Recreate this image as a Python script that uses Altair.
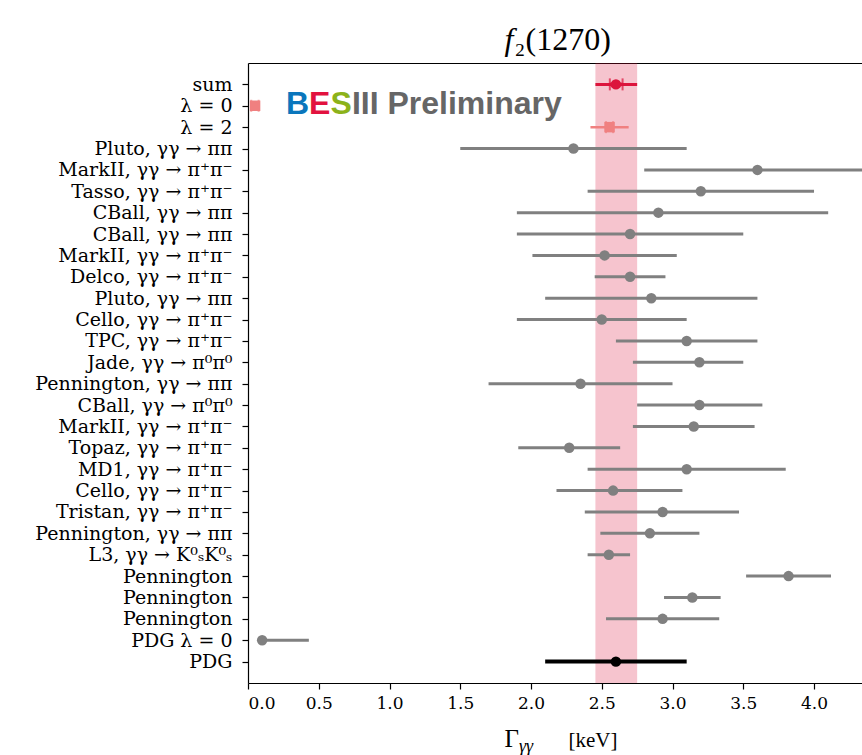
import json
import altair as alt
import pandas as pd

labels = [
    "sum", "λ = 0", "λ = 2",
    "Pluto, γγ → ππ", "MarkII, γγ → π⁺π⁻", "Tasso, γγ → π⁺π⁻",
    "CBall, γγ → ππ", "CBall, γγ → ππ", "MarkII, γγ → π⁺π⁻",
    "Delco, γγ → π⁺π⁻", "Pluto, γγ → ππ", "Cello, γγ → π⁺π⁻",
    "TPC, γγ → π⁺π⁻", "Jade, γγ → π⁰π⁰", "Pennington, γγ → ππ",
    "CBall, γγ → π⁰π⁰", "MarkII, γγ → π⁺π⁻", "Topaz, γγ → π⁺π⁻",
    "MD1, γγ → π⁺π⁻", "Cello, γγ → π⁺π⁻", "Tristan, γγ → π⁺π⁻",
    "Pennington, γγ → ππ", "L3, γγ → K⁰ₛK⁰ₛ", "Pennington",
    "Pennington", "Pennington", "PDG λ = 0", "PDG",
]
values = [2.60, 0.05, 2.555, 2.30, 3.60, 3.20, 2.90, 2.70, 2.52, 2.70, 2.85, 2.50,
          3.10, 3.19, 2.35, 3.19, 3.15, 2.27, 3.10, 2.58, 2.93, 2.84, 2.55, 3.82,
          3.14, 2.93, 0.10, 2.60]
err_lo = [2.455, 0.05, 2.42, 1.50, 2.80, 2.40, 1.90, 1.90, 2.01, 2.45, 2.10, 1.90,
          2.60, 2.72, 1.70, 2.75, 2.72, 1.91, 2.40, 2.18, 2.38, 2.49, 2.40, 3.52,
          2.94, 2.53, 0.07, 2.10]
err_hi = [2.75, 0.05, 2.69, 3.10, 4.40, 4.00, 4.10, 3.50, 3.03, 2.95, 3.60, 3.10,
          3.60, 3.50, 3.00, 3.635, 3.58, 2.63, 3.80, 3.07, 3.47, 3.19, 2.70, 4.12,
          3.34, 3.33, 0.43, 3.10]
groups = ["sum", "lam", "lam"] + ["data"] * 24 + ["pdg"]

stat_rows = [0, 1, 2]
stat_lo = [2.557, 0.023, 2.530]
stat_hi = [2.647, 0.075, 2.580]
stat_groups = ["sum", "lam", "lam"]

group_domain = ["data", "pdg", "sum", "lam"]
group_colors = ["#808080", "#000000", "#DC143C", "#F08080"]

df = pd.DataFrame({"idx": list(range(len(labels))), "label": labels, "val": values,
                   "lo": err_lo, "hi": err_hi, "group": groups})
stat_df = pd.DataFrame({"idx": stat_rows, "slo": stat_lo, "shi": stat_hi, "group": stat_groups})
band_df = df[df["group"] == "sum"][["lo", "hi"]]

FONT = "Liberation Serif"
LFONT = "DejaVu Serif"
xs = alt.Scale(domain=[0, 4.339], nice=False, zero=False)
ys = alt.Scale(domain=[-1, 28], reverse=True, nice=False, zero=False)
cs = alt.Scale(domain=group_domain, range=group_colors)

x_axis = alt.Axis(values=[0, 0.5, 1.0, 1.5, 2.0, 2.5, 3.0, 3.5, 4.0], format=".1f", title=None,
                  grid=False, orient="bottom", tickSize=6, tickColor="black", tickWidth=1.2,
                  domainColor="black", domainWidth=1.2, labelFont=LFONT, labelFontSize=17,
                  labelColor="black", labelPadding=6)
top_axis = alt.Axis(orient="top", labels=False, ticks=False, grid=False, title=None,
                    domainColor="black", domainWidth=1.2)
label_expr = json.dumps(labels, ensure_ascii=False) + "[datum.value]"
y_axis = alt.Axis(values=list(range(len(labels))), labelExpr=label_expr, title=None, grid=False,
                  tickSize=6, tickColor="black", tickWidth=1.2, domainColor="black",
                  domainWidth=1.2, labelFont=LFONT, labelFontSize=19, labelColor="black",
                  labelPadding=10, orient="left", labelOverlap=False, labelLimit=400,
                  labelBound=False)


def Y(field):
    return alt.Y(field, scale=ys, axis=y_axis)


band = alt.Chart(band_df).mark_rect(color="#DC143C", opacity=0.25).encode(
    x=alt.X("lo:Q", scale=xs, axis=top_axis), x2="hi:Q")

base = alt.Chart(df)
gray_rules = base.transform_filter(alt.datum.group == "data").mark_rule(
    color="#808080", strokeWidth=3, clip=True).encode(
    x=alt.X("lo:Q", scale=xs, axis=x_axis), x2="hi:Q", y=Y("idx:Q"))
pdg_rule = base.transform_filter(alt.datum.group == "pdg").mark_rule(
    color="black", strokeWidth=4, clip=True).encode(
    x=alt.X("lo:Q", scale=xs, axis=None), x2="hi:Q", y=Y("idx:Q"))
sum_rule = base.transform_filter(alt.datum.group == "sum").mark_rule(
    color="#DC143C", strokeWidth=3, clip=True).encode(
    x=alt.X("lo:Q", scale=xs, axis=None), x2="hi:Q", y=Y("idx:Q"))
lam_rule = base.transform_filter(alt.datum.group == "lam").mark_rule(
    color="#F08080", strokeWidth=2.5, clip=True).encode(
    x=alt.X("lo:Q", scale=xs, axis=None), x2="hi:Q", y=Y("idx:Q"))

stat = alt.Chart(stat_df)
stat_rule = stat.mark_rule(strokeWidth=3.5).encode(
    x=alt.X("slo:Q", scale=xs, axis=None), x2="shi:Q", y=Y("idx:Q"),
    color=alt.Color("group:N", scale=cs, legend=None))
cap_lo = stat.mark_tick(orient="vertical", size=12, thickness=2).encode(
    x=alt.X("slo:Q", scale=xs, axis=None), y=Y("idx:Q"),
    color=alt.Color("group:N", scale=cs, legend=None))
cap_hi = stat.mark_tick(orient="vertical", size=12, thickness=2).encode(
    x=alt.X("shi:Q", scale=xs, axis=None), y=Y("idx:Q"),
    color=alt.Color("group:N", scale=cs, legend=None))

points = base.mark_point(filled=True, opacity=1, size=110).encode(
    x=alt.X("val:Q", scale=xs, axis=None), y=Y("idx:Q"),
    color=alt.Color("group:N", scale=cs, legend=None),
    shape=alt.Shape("group:N", scale=alt.Scale(domain=group_domain,
                                                range=["circle", "circle", "circle", "square"]),
                    legend=None))

# BESIII Preliminary watermark
logo_parts = ["B", "E", "S", "III Preliminary"]
logo_colors = ["#0A76BC", "#E2123F", "#8CB21A", "#666666"]
logo_dx = [0, 23.1, 44.5, 65.9]
logo_layers = []
for t, c, d in zip(logo_parts, logo_colors, logo_dx):
    logo_layers.append(
        alt.Chart(pd.DataFrame({"x": [0.2686], "y": [1]})).mark_text(
            text=t, color=c, font="Liberation Sans", fontWeight="bold", fontSize=32,
            align="left", baseline="alphabetic", dx=d, dy=8).encode(
            x=alt.X("x:Q", scale=xs, axis=None), y=Y("y:Q")))

# title f_2(1270)
title_df = pd.DataFrame({"x": [1.875], "y": [-1.61]})
title_f = alt.Chart(title_df).mark_text(text="f", font=FONT, fontStyle="italic", fontSize=32,
                                        align="right", baseline="alphabetic", color="black").encode(
    x=alt.X("x:Q", scale=xs, axis=None), y=Y("y:Q"))
title_rest = alt.Chart(title_df).mark_text(text="₂(1270)", font=FONT, fontSize=32, dx=1,
                                           align="left", baseline="alphabetic", color="black").encode(
    x=alt.X("x:Q", scale=xs, axis=None), y=Y("y:Q"))

# x-axis title Γ_γγ [keV]
xt_df = pd.DataFrame({"x": [1.915], "x2": [2.265], "y": [31.0]})
xt_g = alt.Chart(xt_df).mark_text(text="Γ", font=FONT, fontSize=25, align="right",
                                  baseline="alphabetic", color="black").encode(
    x=alt.X("x:Q", scale=xs, axis=None), y=Y("y:Q"))
xt_sub = alt.Chart(xt_df).mark_text(text="γγ", font=FONT, fontStyle="italic", fontSize=18,
                                    align="left", baseline="alphabetic", dy=5, color="black").encode(
    x=alt.X("x:Q", scale=xs, axis=None), y=Y("y:Q"))
xt_unit = alt.Chart(xt_df).mark_text(text="[keV]", font=FONT, fontSize=21, align="left",
                                     baseline="alphabetic", color="black").encode(
    x=alt.X("x2:Q", scale=xs, axis=None), y=Y("y:Q"))

chart = alt.layer(
    band, gray_rules, pdg_rule, sum_rule, lam_rule, stat_rule, cap_lo, cap_hi, points,
    *logo_layers, title_f, title_rest, xt_g, xt_sub, xt_unit,
).resolve_axis(x="independent").properties(
    width=614, height=620,
    autosize=alt.AutoSizeParams(type="none"),
    padding={"left": 248, "top": 63, "right": 0, "bottom": 72},
    background="white",
).configure_view(stroke=None)

chart.save("out.html", embed_options={"renderer": "svg", "actions": False})
